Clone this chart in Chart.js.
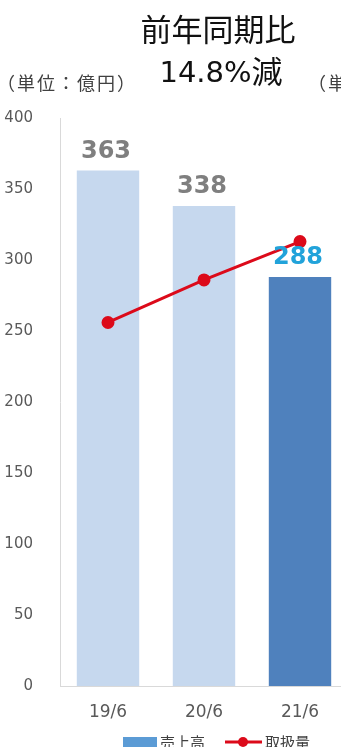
<!DOCTYPE html>
<html lang="ja">
<head>
<meta charset="utf-8">
<script src="https://cdn.jsdelivr.net/npm/chart.js@4/dist/chart.umd.min.js"></script>
<style>
  html, body { margin: 0; padding: 0; background: #fff; overflow: hidden; }
  #wrap { width: 434px; height: 760px; }
</style>
</head>
<body>
<div id="wrap"><canvas id="salesChart" width="434" height="760"></canvas></div>
<script>
const periods = ['19/6', '20/6', '21/6'];
const sales = [363, 338, 288];          // 売上高（億円）
const volume = [256, 286, 313];         // 取扱量
const barColors = ['#C6D8EE', '#C6D8EE', '#4F81BD'];
const labelColors = ['#7F7F7F', '#7F7F7F', '#22A3DA'];
const yTicks = [0, 50, 100, 150, 200, 250, 300, 350, 400];

const RED = '#DC0A1A';
const LEGEND_BLUE = '#5B9BD5';

// headings above the plot
const headings = {
    id: 'headings',
    afterDraw(chart) {
        const ctx = chart.ctx;
        ctx.save();
        ctx.fillStyle = '#111';
        ctx.textAlign = 'center';
        ctx.textBaseline = 'alphabetic';
        ctx.font = '31px "Noto Sans CJK JP"';
        ctx.fillText('前年同期比', 218, 41);
        // "14.8%" and "減" in two fonts, centred together
        const num = '14.8%';
        ctx.font = '29px "DejaVu Sans"';
        const numW = ctx.measureText(num).width;
        ctx.font = '31px "Noto Sans CJK JP"';
        const kanW = ctx.measureText('減').width;
        const x0 = 221 - (numW + kanW) / 2;
        ctx.textAlign = 'left';
        ctx.font = '29px "DejaVu Sans"';
        ctx.fillText(num, x0, 82);
        ctx.font = '31px "Noto Sans CJK JP"';
        ctx.fillText('減', x0 + numW, 83);
        ctx.fillStyle = '#404040';
        ctx.font = '18px "Noto Sans CJK JP"';
        ctx.letterSpacing = '2px';
        ctx.fillText('（単位：億円）', -3, 90);
        ctx.fillText('（単', 308, 90);
        ctx.restore();
    }
};

// value labels on top of the bars
const barValues = {
    id: 'barValues',
    afterDatasetsDraw(chart) {
        const ctx = chart.ctx;
        const meta = chart.getDatasetMeta(1);
        ctx.save();
        ctx.font = 'bold 24px "DejaVu Sans"';
        ctx.textAlign = 'center';
        ctx.textBaseline = 'bottom';
        meta.data.forEach((bar, i) => {
            ctx.fillStyle = labelColors[i];
            ctx.fillText(String(sales[i]), bar.x - 2, bar.y - 7);
        });
        ctx.restore();
    }
};

// legend row under the axis labels
const legendRow = {
    id: 'legendRow',
    afterDraw(chart) {
        const ctx = chart.ctx;
        const y = 742;
        ctx.save();
        ctx.fillStyle = LEGEND_BLUE;
        ctx.fillRect(123, 737, 34, 14);
        ctx.strokeStyle = RED;
        ctx.lineWidth = 3;
        ctx.beginPath(); ctx.moveTo(225, y); ctx.lineTo(262, y); ctx.stroke();
        ctx.fillStyle = RED;
        ctx.beginPath(); ctx.arc(243, y, 5, 0, Math.PI * 2); ctx.fill();
        ctx.fillStyle = '#404040';
        ctx.font = '15px "Noto Sans CJK JP"';
        ctx.textBaseline = 'middle';
        ctx.fillText('売上高', 160, y);
        ctx.fillText('取扱量', 265, y);
        ctx.restore();
    }
};

new Chart(document.getElementById('salesChart'), {
    data: {
        labels: periods,
        datasets: [
            {
                type: 'line',
                label: '取扱量',
                data: volume,
                borderColor: RED,
                backgroundColor: RED,
                borderWidth: 3,
                pointRadius: 5,
                pointHoverRadius: 5,
                order: 0
            },
            {
                type: 'bar',
                label: '売上高',
                data: sales,
                backgroundColor: barColors,
                categoryPercentage: 1,
                barPercentage: 0.65,
                order: 1
            }
        ]
    },
    options: {
        responsive: false,
        animation: false,
        layout: { padding: { top: 118, left: 2, right: 86, bottom: 36 } },
        scales: {
            x: {
                afterFit(axis) { axis.height = 38; },
                grid: { display: false, drawTicks: false },
                border: { color: '#D9D9D9' },
                ticks: { color: '#595959', font: { family: 'DejaVu Sans', size: 17 }, padding: 16 }
            },
            y: {
                min: 0,
                max: 400,
                afterBuildTicks(axis) { axis.ticks = yTicks.map(v => ({ value: v })); },
                afterFit(axis) { axis.width = 58; },
                grid: { display: false, drawTicks: false },
                border: { color: '#D9D9D9' },
                ticks: { color: '#595959', font: { family: 'DejaVu Sans', size: 15 }, padding: 27 }
            }
        },
        plugins: {
            legend: { display: false },
            tooltip: { enabled: false }
        }
    },
    plugins: [headings, barValues, legendRow]
});
</script>
</body>
</html>
